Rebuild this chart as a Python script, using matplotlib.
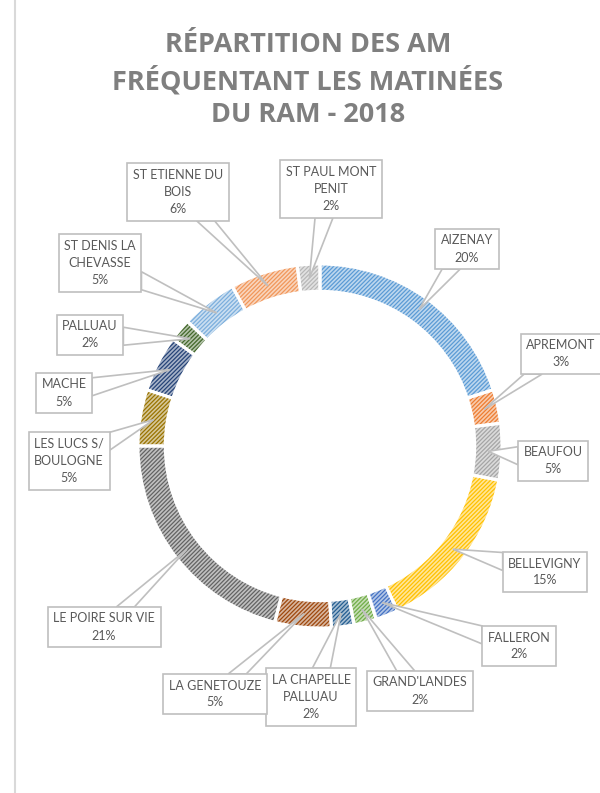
import matplotlib
matplotlib.use("Agg")
import matplotlib.pyplot as plt
from matplotlib.patches import Polygon
import numpy as np

communes = ["AIZENAY", "APREMONT", "BEAUFOU", "BELLEVIGNY", "FALLERON",
            "GRAND'LANDES", "LA CHAPELLE\nPALLUAU", "LA GENETOUZE",
            "LE POIRE SUR VIE", "LES LUCS S/\nBOULOGNE", "MACHE", "PALLUAU",
            "ST DENIS LA\nCHEVASSE", "ST ETIENNE DU\nBOIS", "ST PAUL MONT\nPENIT"]
pourcent = [20, 3, 5, 15, 2, 2, 2, 5, 21, 5, 5, 2, 5, 6, 2]

couleurs = ["#5B9BD5", "#ED7D31", "#A5A5A5", "#FFC000", "#4472C4", "#70AD47",
            "#255E91", "#9E480E", "#636363", "#997300", "#264478", "#43682B",
            "#7CAFDD", "#F1975A", "#B7B7B7"]

# position des etiquettes (centre, pixels image)
pos_etiq = [(467, 249), (561, 354), (553, 461), (545, 572), (519, 646),
            (420, 691), (311, 697), (215, 694), (104, 627), (69, 461),
            (64, 393), (90, 335), (100, 263), (178, 192), (331, 189)]

W, H = 600, 793
plt.rcParams['hatch.linewidth'] = 0.9
fig = plt.figure(figsize=(W / 100, H / 100), dpi=100)

def clair(c, f=0.6):
    rgb = np.array(matplotlib.colors.to_rgb(c))
    return tuple(rgb + (1 - rgb) * f)

# donut
cx, cy, r = 320, 446, 182
ax = fig.add_axes([(cx - r) / W, (H - cy - r) / H, 2 * r / W, 2 * r / H])
largeur = 0.15
wedges, _ = ax.pie(pourcent, startangle=90, counterclock=False, radius=1,
                   colors=[clair(c) for c in couleurs],
                   wedgeprops=dict(width=largeur, linewidth=0))
for w, c in zip(wedges, couleurs):
    w.set_edgecolor(c)
    w.set_hatch("////////")
ax.pie(pourcent, startangle=90, counterclock=False, radius=1,
       colors=["none"] * len(pourcent),
       wedgeprops=dict(width=largeur, linewidth=2.2, edgecolor="white"))
ax.set_xlim(-1, 1)
ax.set_ylim(-1, 1)
ax.set_aspect("equal")
ax.axis("off")

# etiquettes
textes = []
for nom, p, (px, py) in zip(communes, pourcent, pos_etiq):
    t = fig.text(px / W, 1 - py / H, f"{nom}\n{p}%", ha="center", va="center",
                 fontsize=9, family="Lato", color="#595959", linespacing=1.5,
                 zorder=5,
                 bbox=dict(boxstyle="square,pad=0.45", fc="white",
                           ec="#bfbfbf", lw=1.2))
    textes.append(t)

fig.canvas.draw()
inv = fig.transFigure.inverted()
demi = 9
for w, t in zip(wedges, textes):
    a = np.deg2rad((w.theta1 + w.theta2) / 2)
    rm = 1 - largeur / 2
    tx, ty = ax.transData.transform((rm * np.cos(a), rm * np.sin(a)))
    bb = t.get_bbox_patch().get_window_extent()
    bx, by = (bb.x0 + bb.x1) / 2, (bb.y0 + bb.y1) / 2
    dx, dy = tx - bx, ty - by
    # bord de la boite traverse par la direction vers la cible
    sx = (bb.width / 2) / abs(dx) if dx else np.inf
    sy = (bb.height / 2) / abs(dy) if dy else np.inf
    if sx < sy:
        xe = bb.x1 if dx > 0 else bb.x0
        ye = by + dy * sx
        y0 = np.clip(ye - demi, bb.y0, bb.y1 - 2 * demi)
        base = [(xe, y0), (xe, y0 + 2 * demi)]
    else:
        ye = bb.y1 if dy > 0 else bb.y0
        xe = bx + dx * sy
        x0 = np.clip(xe - demi, bb.x0, bb.x1 - 2 * demi)
        base = [(x0, ye), (x0 + 2 * demi, ye)]
    pts = inv.transform(np.array([base[0], (tx, ty), base[1]]))
    fig.add_artist(Polygon(pts, closed=True, fc="white", ec="#bfbfbf",
                           lw=1.2, zorder=4, transform=fig.transFigure))

# titre
fig.text(308 / W, 1 - 80 / H, "RÉPARTITION DES AM\nFRÉQUENTANT LES MATINÉES\nDU RAM - 2018",
         ha="center", va="center", fontsize=19.5, fontweight="bold",
         family="Open Sans", color="#7f7f7f", linespacing=1.35)

# bord gauche de la zone
fig.add_artist(plt.Line2D([15 / W, 15 / W], [0, 1], color="#d9d9d9", lw=1.5))

fig.savefig("out.png", dpi=100)
